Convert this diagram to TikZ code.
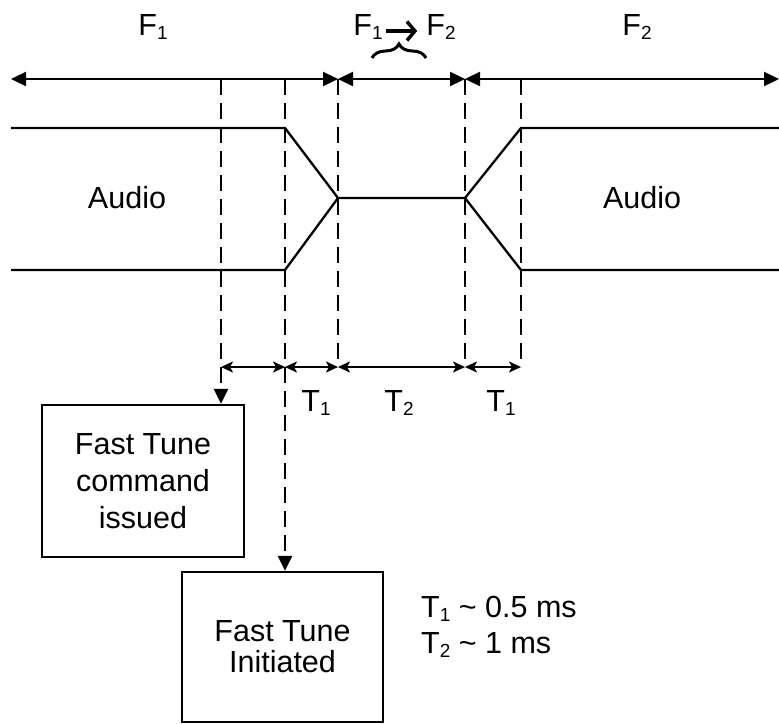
\documentclass[tikz,border=0pt]{standalone}
\usepackage{fontspec}
\setmainfont{Liberation Sans}
\usetikzlibrary{arrows.meta,decorations.pathreplacing,calc}
\newcommand{\lsub}[1]{\raisebox{-4pt}{\fontsize{19}{19}\selectfont #1}}
\begin{document}
\begin{tikzpicture}[x=1pt,y=-1pt,
  txt/.style={font=\fontsize{30.5}{36}\selectfont, inner sep=0pt},
  sline/.style={line width=2.3pt},
  dline/.style={line width=2.9pt, dash pattern=on 16pt off 8pt},
  bigtips/.style={{Triangle[length=15pt,width=14pt]}-{Triangle[length=15pt,width=14pt]}},
  dimtips/.style={{Stealth[length=12pt,width=11pt,inset=3pt]}-{Stealth[length=12pt,width=11pt,inset=3pt]}},
  downtip/.style={-{Triangle[length=15pt,width=14pt]}},
  boxnode/.style={draw, line width=2.3pt, inner sep=0pt, align=center}
]
\useasboundingbox (0,0) rectangle (779,723);

% top frequency arrows
\coordinate (L) at (11,79);
\coordinate (R) at (779,79);
\coordinate (c1) at (221,79);
\coordinate (c2) at (285,79);
\coordinate (c3) at (338,79);
\coordinate (c4) at (465,79);
\coordinate (c5) at (521,79);
\draw[sline, bigtips] (L) -- (c3);
\draw[sline, bigtips] (c3) -- (c4);
\draw[sline, bigtips] (c4) -- (R);

% labels at top
\node[txt, anchor=base] (f1) at (153,35) {F\lsub{1}};
\node[txt, anchor=base] (f2) at (637,35) {F\lsub{2}};
\node[txt, anchor=base] (fa) at (368,35) {F\lsub{1}};
\node[txt, anchor=base] (fb) at (441,35) {F\lsub{2}};
\draw[line width=3.4pt, -{Straight Barb[length=8pt,width=19pt]}] ($(fa.base east)+(3,-4)$) -- ($(fb.base west)+(-9,-4)$);
\coordinate (br1) at (372,58);
\coordinate (br2) at (426,58);
\draw[line width=3pt, decorate, decoration={brace, amplitude=14pt}] (br1) -- (br2);

% audio envelope
\coordinate (u0) at (11,128);
\coordinate (u1) at (285,128);
\coordinate (mid1) at (338,198);
\coordinate (mid2) at (465,198);
\coordinate (u2) at (521,128);
\coordinate (u3) at (779,128);
\coordinate (l0) at (11,270);
\coordinate (l1) at (285,270);
\coordinate (l2) at (521,270);
\coordinate (l3) at (779,270);
\draw[sline] (u0) -- (u1) -- (mid1) -- (mid2) -- (u2) -- (u3);
\draw[sline] (l0) -- (l1) -- (mid1);
\draw[sline] (mid2) -- (l2) -- (l3);
\node[txt, anchor=base] (aud1) at (127,208) {Audio};
\node[txt, anchor=base] (aud2) at (642,208) {Audio};

% boxes
\node[boxnode, minimum width=202pt, minimum height=152pt, font=\fontsize{30.5}{37}\selectfont] (b1) at (143,481) {Fast Tune\\command\\issued};
\node[boxnode, minimum width=201pt, minimum height=150pt, font=\fontsize{30.5}{31}\selectfont] (b2) at (282.5,647) {Fast Tune\\Initiated};

% dimension line
\coordinate (m1) at (221,367);
\coordinate (m2) at (285,367);
\coordinate (m3) at (338,367);
\coordinate (m4) at (465,367);
\coordinate (m5) at (521,367);
\draw[sline, dimtips] (m1) -- (m2);
\draw[sline, dimtips] (m2) -- (m3);
\draw[sline, dimtips] (m3) -- (m4);
\draw[sline, dimtips] (m4) -- (m5);

% dashed verticals
\draw[dline, downtip] (c1) -- (c1 |- b1.north);
\draw[dline, downtip] (c2) -- (c2 |- b2.north);
\draw[dline] (c3) -- (m3);
\draw[dline] (c4) -- (m4);
\draw[dline] (c5) -- (m5);

% T labels
\node[txt, anchor=base] (t1a) at (316,411) {T\lsub{1}};
\node[txt, anchor=base] (t2) at (399,411) {T\lsub{2}};
\node[txt, anchor=base] (t1b) at (501,411) {T\lsub{1}};

% notes
\node[txt, anchor=base west] (n1) at (421,617) {T\lsub{1} \textasciitilde{} 0.5 ms};
\node[txt, anchor=base west] (n2) at (421,653) {T\lsub{2} \textasciitilde{} 1 ms};
\end{tikzpicture}
\end{document}
